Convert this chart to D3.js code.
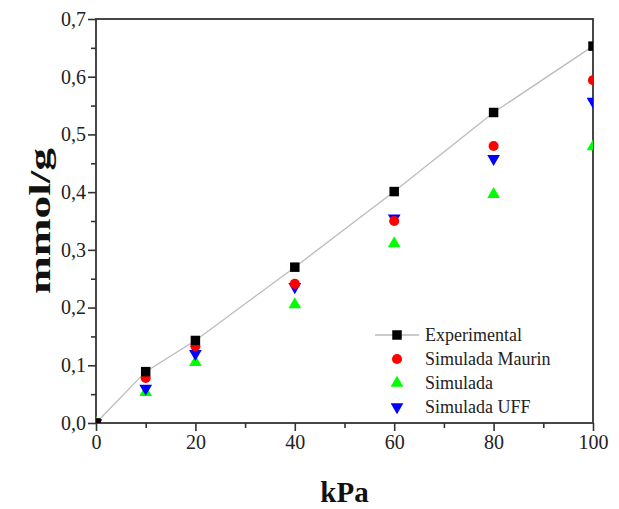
<!DOCTYPE html>
<html>
  <head>
    <meta charset="utf-8">
    <script src="https://d3js.org/d3.v7.min.js"></script>
    <style>
      body { margin: 0px; background: #fff; overflow: hidden; }
      svg { display: block; }
      .tick text { font-family: "Liberation Serif", serif; font-size: 20px; fill: #222; }
      .axis-label { font-family: "Liberation Serif", serif; font-weight: bold; font-size: 29px; fill: #111; }
      .legend-text { font-family: "Liberation Serif", serif; font-size: 18px; fill: #222; }
    </style>
  </head>
  <body>
    <div id="viz1"></div>
    <script>
      // data
      const kpa = [0, 10, 20, 40, 60, 80, 100];
      const experimental = [0, 0.089, 0.143, 0.270, 0.401, 0.538, 0.653];
      const maurin = [0, 0.078, 0.133, 0.241, 0.350, 0.480, 0.594];
      const simulada = [0, 0.053, 0.105, 0.205, 0.311, 0.396, 0.479];
      const uff = [0, 0.060, 0.120, 0.236, 0.355, 0.458, 0.557];
      const xTicks = [0, 20, 40, 60, 80, 100];
      const yTicks = [0, 0.1, 0.2, 0.3, 0.4, 0.5, 0.6, 0.7];
      const xMinor = [10, 30, 50, 70, 90];
      const yMinor = [0.05, 0.15, 0.25, 0.35, 0.45, 0.55, 0.65];

      const width = 619, height = 509;
      const margin = { left: 96, right: 26, top: 19, bottom: 86 };
      const innerWidth = width - margin.left - margin.right;
      const innerHeight = height - margin.top - margin.bottom;

      const svg = d3.select('#viz1').append('svg')
        .attr('width', width)
        .attr('height', height);

      const g = svg.append('g')
        .attr('transform', `translate(${margin.left},${margin.top})`);

      const xScale = d3.scaleLinear().domain([0, 100]).range([0, innerWidth]);
      const yScale = d3.scaleLinear().domain([0, 0.7]).range([innerHeight, 0]);
      const fmt = d => d3.format('.1f')(d).replace('.', ',');

      g.append('clipPath').attr('id', 'clip')
        .append('rect').attr('width', innerWidth).attr('height', innerHeight);

      const xAxisMinor = d3.axisBottom(xScale).tickValues(xMinor).tickSize(5);
      const yAxisMinor = d3.axisLeft(yScale).tickValues(yMinor).tickSize(5);
      const xAxis = d3.axisBottom(xScale).tickValues(xTicks).tickSize(8).tickPadding(4).tickFormat(d3.format('d'));
      const yAxis = d3.axisLeft(yScale).tickValues(yTicks).tickSize(8).tickPadding(2).tickFormat(fmt);

      const styleAxis = sel => {
        sel.select('.domain').remove();
        sel.selectAll('.tick line').attr('stroke', '#333').attr('stroke-width', 1.6);
      };
      g.append('g').attr('transform', `translate(0,${innerHeight})`)
        .call(xAxisMinor).call(styleAxis).selectAll('.tick text').remove();
      g.append('g')
        .call(yAxisMinor).call(styleAxis).selectAll('.tick text').remove();
      g.append('g').attr('transform', `translate(0,${innerHeight})`).call(xAxis).call(styleAxis);
      g.append('g').call(yAxis).call(styleAxis);

      // frame
      g.append('rect')
        .attr('width', innerWidth).attr('height', innerHeight)
        .attr('fill', 'none').attr('stroke', '#333').attr('stroke-width', 1.8);

      const plot = g.append('g').attr('clip-path', 'url(#clip)');

      const expData = kpa.map((k, i) => ({ x: k, y: experimental[i] }));
      plot.append('path').datum(expData)
        .attr('fill', 'none').attr('stroke', '#bbb').attr('stroke-width', 1.3)
        .attr('d', d3.line().x(d => xScale(d.x)).y(d => yScale(d.y)));

      const series = [
        { name: 'Simulada', values: simulada, color: '#00ff00', symbol: d3.symbolTriangle, size: 70, rot: 0 },
        { name: 'Simulada UFF', values: uff, color: '#0000ff', symbol: d3.symbolTriangle, size: 70, rot: 180 },
        { name: 'Simulada Maurin', values: maurin, color: '#ff0000', symbol: d3.symbolCircle, size: 80, rot: 0 },
        { name: 'Experimental', values: experimental, color: '#000000', symbol: d3.symbolSquare, size: 90, rot: 0 }
      ];

      series.forEach(s => {
        plot.selectAll(null).data(kpa.map((k, i) => ({ x: k, y: s.values[i] })))
          .enter().append('path')
          .attr('d', d3.symbol().type(s.symbol).size(s.size))
          .attr('fill', s.color)
          .attr('transform', d => `translate(${xScale(d.x)},${yScale(d.y)}) rotate(${s.rot})`);
      });

      // axis labels
      g.append('text').attr('class', 'axis-label')
        .attr('x', innerWidth / 2).attr('y', innerHeight + 79)
        .attr('text-anchor', 'middle').text('kPa');
      g.append('text').attr('class', 'axis-label')
        .attr('transform', `translate(-46,${innerHeight / 2}) rotate(-90)`)
        .attr('text-anchor', 'middle')
        .attr('textLength', 146).attr('lengthAdjust', 'spacingAndGlyphs')
        .text('mmol/g');

      // legend
      const legendOrder = ['Experimental', 'Simulada Maurin', 'Simulada', 'Simulada UFF'];
      const legend = svg.append('g').attr('transform', 'translate(397,335)');
      legendOrder.forEach((name, i) => {
        const s = series.find(d => d.name === name);
        const row = legend.append('g').attr('transform', `translate(0,${i * 24})`);
        if (name === 'Experimental') {
          row.append('line').attr('x1', -22).attr('x2', 22)
            .attr('stroke', '#bbb').attr('stroke-width', 1.3);
        }
        row.append('path')
          .attr('d', d3.symbol().type(s.symbol).size(s.size))
          .attr('fill', s.color)
          .attr('transform', `rotate(${s.rot})`);
        row.append('text').attr('class', 'legend-text')
          .attr('x', 28).attr('y', 6).text(name);
      });
    </script>
  </body>
</html>
